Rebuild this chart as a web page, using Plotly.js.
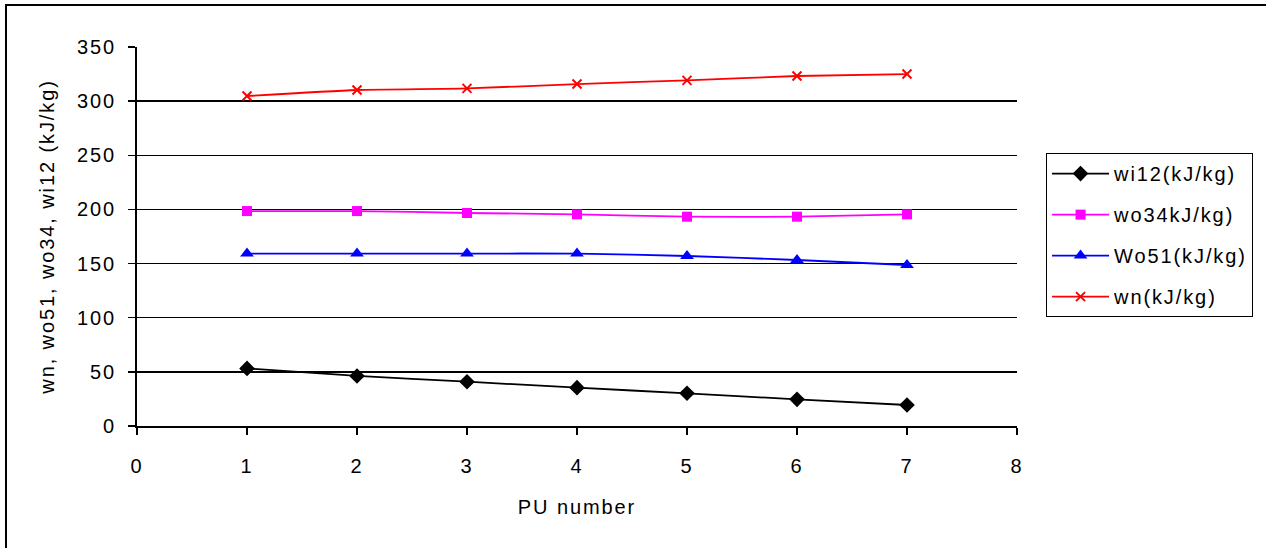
<!DOCTYPE html>
<html>
<head>
<meta charset="utf-8">
<script src="https://cdn.plot.ly/plotly-3.0.1.min.js"></script>
<style>
  html, body { margin: 0; padding: 0; background: #fff; }
  #wrap { position: relative; width: 1266px; height: 548px; overflow: hidden; }
  #chart { width: 1266px; height: 548px; }
  #frame { position: absolute; left: 5px; top: 4px; width: 1400px; height: 700px;
           border-left: 2px solid #000; border-top: 2px solid #000; pointer-events: none; }
  svg text { letter-spacing: 1.9px; }
</style>
</head>
<body>
<div id="wrap">
  <div id="chart"></div>
  <div id="frame"></div>
</div>
<script>
const puNumber = [1, 2, 3, 4, 5, 6, 7];
const wi12 = [53.2, 46.2, 40.9, 35.4, 30.2, 24.6, 19.4];
const wo34 = [198.5, 198.5, 196.7, 195.5, 193.3, 193.3, 195.5];
const wo51 = [159.2, 159.2, 159.2, 159.2, 157.0, 153.3, 148.7];
const wn = [304.7, 310.3, 311.8, 315.8, 319.2, 323.2, 325.0];

const seriesNames = ['wi12(kJ/kg)', 'wo34kJ/kg)', 'Wo51(kJ/kg)', 'wn(kJ/kg)'];
const xTitle = 'PU number';
const yTitle = 'wn, wo51, wo34, wi12 (kJ/kg)';

const FONT = 'Arial, "Liberation Sans", sans-serif';
const FS = 20;

function tr(y, name, color, symbol, size, group) {
  const m = { symbol: symbol, size: size, color: color };
  if (symbol === 'x-thin') m.line = { color: color, width: 2 };
  return {
    x: puNumber, y: y, name: name, type: 'scatter', mode: 'lines+markers',
    legendgroup: group,
    line: { color: color, width: 1.8, shape: 'spline', smoothing: 0.6 },
    marker: m
  };
}

const data = [
  tr(wi12, seriesNames[0], '#000000', 'diamond', 12, 'a'),
  tr(wo34, seriesNames[1], '#ff00ff', 'square', 10, 'b'),
  tr(wo51, seriesNames[2], '#0000ff', 'triangle-up', 12, 'c'),
  tr(wn, seriesNames[3], '#ff0000', 'x-thin', 9, 'd')
];

const layout = {
  width: 1266, height: 548,
  margin: { l: 137, r: 249, t: 47, b: 122, pad: 0 },
  paper_bgcolor: '#ffffff', plot_bgcolor: '#ffffff',
  font: { family: FONT, size: FS, color: '#000' },
  showlegend: true,
  legend: {
    x: 1.033, y: 0.72, xanchor: 'left', yanchor: 'top',
    bgcolor: '#ffffff', bordercolor: '#000', borderwidth: 1,
    font: { family: FONT, size: FS, color: '#000' },
    traceorder: 'grouped', tracegroupgap: 12, itemwidth: 57
  },
  xaxis: {
    range: [0, 8], dtick: 1, tick0: 0,
    showline: true, linecolor: '#000', linewidth: 2,
    ticks: 'outside', ticklen: 7, tickcolor: '#000', tickwidth: 1.5,
    showgrid: false, zeroline: false,
    ticklabelstandoff: 14,
    tickfont: { family: FONT, size: FS, color: '#000' },
    title: { text: xTitle, font: { family: FONT, size: FS, color: '#000' }, standoff: 24 }
  },
  yaxis: {
    range: [0, 350], dtick: 50, tick0: 0,
    showline: true, linecolor: '#000', linewidth: 2,
    ticks: 'outside', ticklen: 7, tickcolor: '#000', tickwidth: 1.5,
    showgrid: true, gridcolor: '#000', gridwidth: 1.5, zeroline: false,
    ticklabelstandoff: 8,
    tickfont: { family: FONT, size: FS, color: '#000' },
    title: { text: yTitle, font: { family: FONT, size: FS, color: '#000' }, standoff: 17 }
  }
};

Plotly.newPlot('chart', data, layout, { displayModeBar: false, staticPlot: true });
</script>
</body>
</html>
